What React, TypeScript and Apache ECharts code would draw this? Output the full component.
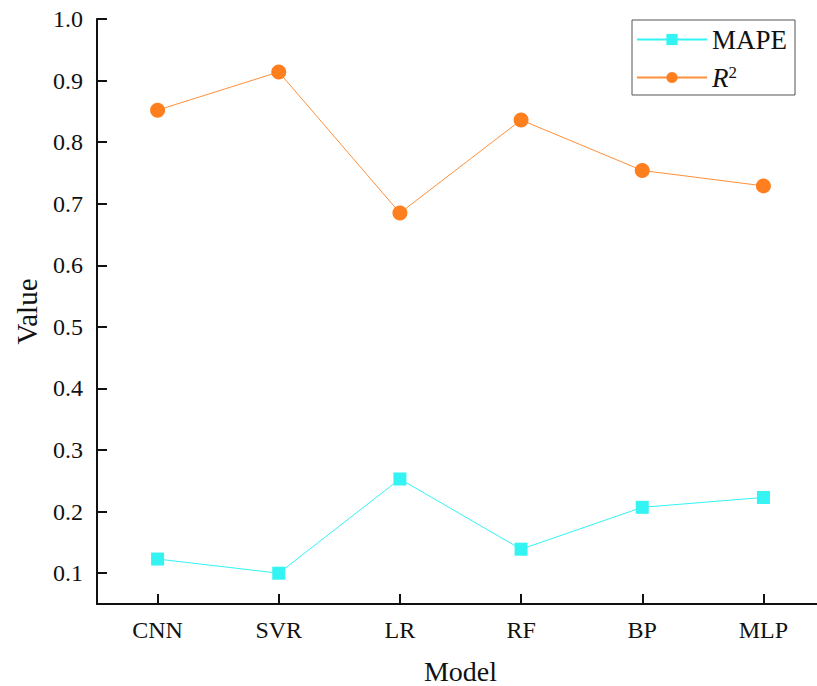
import React, { useEffect, useRef } from "react";
import * as echarts from "echarts";

const categories = ["CNN", "SVR", "LR", "RF", "BP", "MLP"];
const mapeValues = [0.123, 0.1, 0.253, 0.139, 0.207, 0.223];
const r2Values = [0.852, 0.914, 0.685, 0.836, 0.754, 0.729];
const yTicks = [0.1, 0.2, 0.3, 0.4, 0.5, 0.6, 0.7, 0.8, 0.9, 1.0];

const FONT = "'Liberation Serif', 'Times New Roman', serif";

export default function App() {
  const ref = useRef<HTMLDivElement>(null);
  useEffect(() => {
    document.body.style.margin = "0";
    const chart = echarts.init(ref.current!, null, { renderer: "svg" });
    chart.setOption({
      animation: false,
      backgroundColor: "#ffffff",
      textStyle: { fontFamily: FONT },
      grid: { left: 97, top: 19, width: 727, bottom: 82, containLabel: false, outerBoundsMode: "none" },
      legend: {
        orient: "vertical",
        left: 632,
        top: 20,
        padding: [6, 8, 4, 4],
        itemGap: 11,
        itemWidth: 70,
        itemHeight: 14,
        borderColor: "#555",
        borderWidth: 1,
        textStyle: {
          fontFamily: FONT,
          fontSize: 27,
          color: "#111",
          rich: {
            i: { fontFamily: FONT, fontSize: 27, fontStyle: "italic", color: "#111" },
            s: { fontFamily: FONT, fontSize: 17, color: "#111", verticalAlign: "top", padding: [0, 0, 8, 0] },
          },
        },
        formatter: (name: string) => (name === "R²" ? "{i|R}{s|2}" : name),
        data: ["MAPE", "R²"],
      },
      xAxis: {
        type: "category",
        data: categories,
        boundaryGap: true,
        name: "Model",
        nameLocation: "middle",
        nameGap: 53,
        nameTextStyle: { fontFamily: FONT, fontSize: 28, lineHeight: 28, color: "#111" },
        axisLine: { show: true, lineStyle: { color: "#111", width: 2 } },
        axisTick: { show: true, inside: true, length: 10, alignWithLabel: true, lineStyle: { color: "#111", width: 2 } },
        axisLabel: { fontFamily: FONT, fontSize: 24, color: "#111", margin: 14 },
        splitLine: { show: false },
      },
      yAxis: {
        type: "value",
        min: 0.05,
        max: 1.0,
        name: "Value",
        nameLocation: "middle",
        nameGap: 56,
        nameTextStyle: { fontFamily: FONT, fontSize: 29, color: "#111" },
        axisLine: { show: true, lineStyle: { color: "#111", width: 2 } },
        axisTick: { show: true, inside: true, length: 10, customValues: yTicks, lineStyle: { color: "#111", width: 2 } },
        axisLabel: {
          fontFamily: FONT,
          fontSize: 24,
          color: "#111",
          margin: 14,
          customValues: yTicks,
          formatter: (v: number) => v.toFixed(1),
        },
        splitLine: { show: false },
      },
      series: [
        {
          name: "MAPE",
          type: "line",
          data: mapeValues,
          symbol: "rect",
          symbolSize: 13,
          itemStyle: { color: "#33f3f3" },
          lineStyle: { color: "#33f3f3", width: 1 },
        },
        {
          name: "R²",
          type: "line",
          data: r2Values,
          symbol: "circle",
          symbolSize: 15,
          itemStyle: { color: "#ff7f1f" },
          lineStyle: { color: "#ff8f3a", width: 1 },
        },
      ],
    });
    return () => chart.dispose();
  }, []);
  return <div ref={ref} style={{ width: 817, height: 686 }} />;
}
